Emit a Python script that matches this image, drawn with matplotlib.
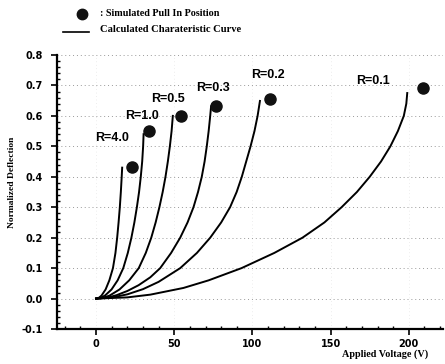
import matplotlib
matplotlib.use("Agg")
import matplotlib.pyplot as plt
from matplotlib.ticker import MultipleLocator, FormatStrFormatter

# calculated characteristic curves (voltage V, normalized deflection)
r_labels = ["R=4.0", "R=1.0", "R=0.5", "R=0.3", "R=0.2", "R=0.1"]

v_r40 = [0, 1.9, 3.5, 6.1, 8.5, 10.8, 12.4, 13.5, 14.4, 15.2, 15.85, 16.4, 16.7]
d_r40 = [0, 0.003, 0.01, 0.03, 0.06, 0.1, 0.15, 0.2, 0.25, 0.3, 0.35, 0.4, 0.43]
v_r10 = [0, 3.1, 5.7, 9.9, 13.8, 17.4, 20.3, 22.6, 24.5, 26.1, 27.5, 28.6, 29.5, 30.1, 30.4]
d_r10 = [0, 0.003, 0.01, 0.03, 0.06, 0.1, 0.15, 0.2, 0.25, 0.3, 0.35, 0.4, 0.45, 0.5, 0.54]
v_r05 = [0, 4.7, 8.7, 15, 21.2, 27.3, 31.8, 35.3, 38.1, 40.5, 42.6, 44.4, 45.9, 47.2,
         48.3, 49.1]
d_r05 = [0, 0.003, 0.01, 0.03, 0.06, 0.1, 0.15, 0.2, 0.25, 0.3, 0.35, 0.4, 0.45, 0.5,
         0.55, 0.6]
v_r03 = [0, 7, 13, 20, 27.2, 34.7, 41, 48, 53.8, 58.5, 62.3, 65.2, 67.6, 69.4, 70.8, 72,
         73, 73.55]
d_r03 = [0, 0.003, 0.011, 0.025, 0.044, 0.07, 0.1, 0.15, 0.2, 0.25, 0.3, 0.35, 0.4, 0.45,
         0.5, 0.55, 0.6, 0.631]
v_r02 = [0, 10, 20, 30, 40, 53.8, 64.5, 73, 80, 85.7, 89.9, 93.2, 96, 98.8, 101.3, 103.3,
         104.8]
d_r02 = [0, 0.0035, 0.014, 0.031, 0.055, 0.1, 0.15, 0.2, 0.25, 0.3, 0.35, 0.4, 0.45, 0.5,
         0.55, 0.6, 0.649]
v_r01 = [0, 20, 34.7, 55.9, 72, 93, 114, 132, 146, 157, 166.8, 175, 182.2, 188.2, 193,
         196.8, 198.4, 199]
d_r01 = [0, 0.004, 0.013, 0.035, 0.06, 0.1, 0.15, 0.2, 0.25, 0.3, 0.35, 0.4, 0.45, 0.5,
         0.55, 0.6, 0.64, 0.675]

# simulated pull-in positions
pull_v = [23, 34, 54, 77, 111, 209]
pull_d = [0.432, 0.549, 0.598, 0.633, 0.655, 0.693]

# label anchor positions (V, deflection)
lab_v = [10.2, 29.4, 46.2, 75, 110, 177]
lab_d = [0.526, 0.60, 0.655, 0.69, 0.734, 0.716]

curves = [(v_r40, d_r40), (v_r10, d_r10), (v_r05, d_r05),
          (v_r03, d_r03), (v_r02, d_r02), (v_r01, d_r01)]

fig = plt.figure(figsize=(4.45, 3.64), dpi=100)
ax = fig.add_axes([0.128, 0.096, 0.868, 0.753])

for v, d in curves:
    ax.plot(v, d, color="black", lw=1.4, solid_joinstyle="round")

ax.plot(pull_v, pull_d, "o", color="#111111", markersize=8,
        markeredgecolor="#111111")

for lbl, x, y in zip(r_labels, lab_v, lab_d):
    ax.text(x, y, lbl, ha="center", va="center", fontsize=9,
            fontweight="bold", family="Liberation Sans")

ax.set_xlim(-25, 222)
ax.set_ylim(-0.1, 0.8)
ax.xaxis.set_major_locator(MultipleLocator(50))
ax.xaxis.set_minor_locator(MultipleLocator(10))
ax.yaxis.set_major_locator(MultipleLocator(0.1))
ax.yaxis.set_minor_locator(MultipleLocator(0.02))
ax.yaxis.set_major_formatter(FormatStrFormatter("%.1f"))

ax.grid(axis="y", which="major", color="#999999", ls=(0, (1, 3)), lw=0.7)
ax.grid(axis="x", which="major", color="#dddddd", ls=(0, (1, 4)), lw=0.5)

for s in ["top", "right"]:
    ax.spines[s].set_visible(False)
ax.spines["left"].set_linewidth(1.6)
ax.spines["bottom"].set_linewidth(1.6)

ax.tick_params(which="major", direction="out", length=4, width=1.2)
ax.tick_params(axis="x", which="major", pad=3)
ax.tick_params(axis="y", which="major", pad=6)
ax.tick_params(which="minor", direction="in", length=2.5, width=1)
for t in ax.get_xticklabels() + ax.get_yticklabels():
    t.set_fontweight("bold")
    t.set_fontsize(7)

fig.text(428 / 445, 1 - 354 / 364, "Applied Voltage (V)", ha="right",
         va="center", fontsize=7.3, fontweight="bold", family="Liberation Serif")
fig.text(0.027, 0.50, "Normalized Deflection", rotation=90, ha="center",
         va="center", fontsize=6.8, fontweight="bold", family="Liberation Serif")

# legend drawn above the axes
fig.lines.append(plt.Line2D([82 / 445], [1 - 14 / 364], marker="o",
                            color="#111111", markersize=7.5,
                            transform=fig.transFigure))
fig.lines.append(plt.Line2D([63 / 445, 89 / 445], [1 - 32 / 364, 1 - 32 / 364],
                            color="black", lw=1.2, transform=fig.transFigure))
fig.text(100 / 445, 1 - 14 / 364, ": Simulated Pull In Position", ha="left",
         va="center", fontsize=7.3, fontweight="bold", family="Liberation Serif")
fig.text(100 / 445, 1 - 30 / 364, "Calculated Charateristic Curve", ha="left",
         va="center", fontsize=7.6, fontweight="bold", family="Liberation Serif")

fig.savefig("out.png", dpi=100)
